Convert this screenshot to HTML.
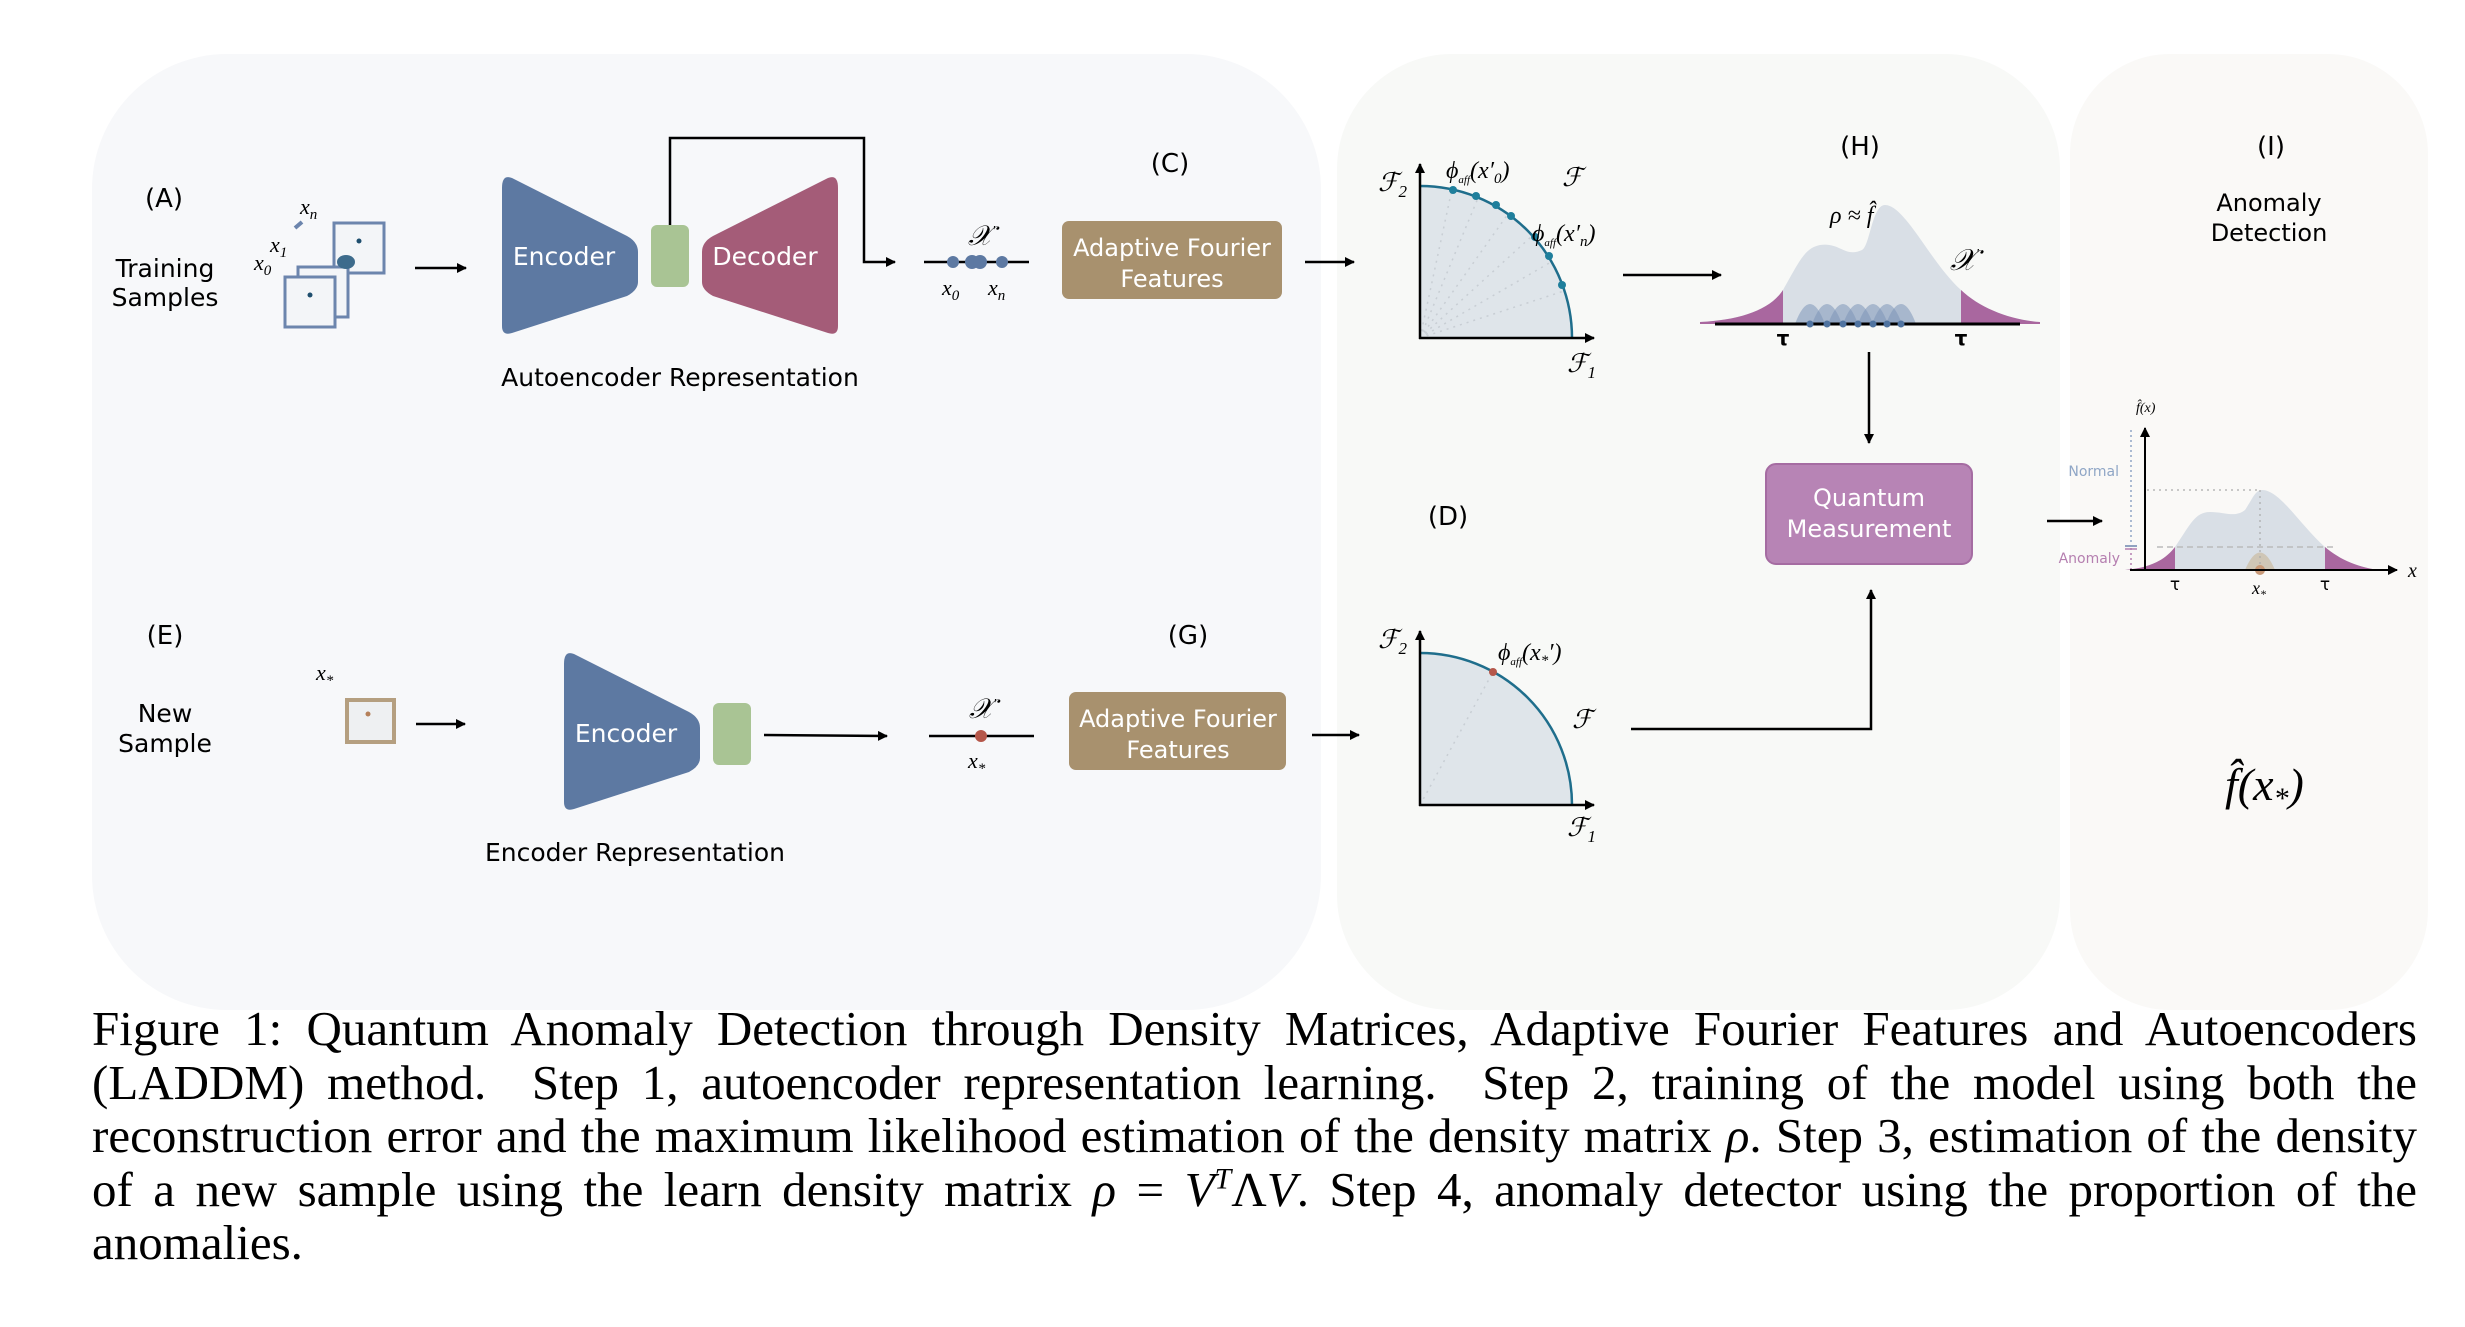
<!DOCTYPE html>
<html><head><meta charset="utf-8"><style>
body{margin:0;background:#fff;width:2465px;height:1327px;overflow:hidden;position:relative;font-family:"Liberation Sans","DejaVu Sans",sans-serif}
svg{position:absolute;left:0;top:0}
.cap{position:absolute;left:92px;top:1002px;width:2325px;font-family:"Liberation Serif",serif;font-size:49px;line-height:53.5px;color:#000}
.cap div{text-align:justify;text-align-last:justify;white-space:nowrap;overflow:visible}
.cap div.l{text-align-last:left}
</style></head><body>
<svg width="2465" height="1327" viewBox="0 0 2465 1327" font-family="DejaVu Sans, Liberation Sans, sans-serif">
<defs>
<marker id="ah" markerWidth="10" markerHeight="10" refX="9" refY="5" orient="auto" markerUnits="userSpaceOnUse"><path d="M0,0 L10,5 L0,10 z" fill="#000"/></marker>
</defs>
<rect x="92" y="54" width="1229" height="956" rx="135" fill="#f7f8fa"/>
<rect x="1337" y="54" width="723" height="956" rx="115" fill="#f8f9f7"/>
<rect x="2070" y="54" width="358" height="956" rx="100" fill="#faf9f7"/>

<text x="164" y="207" font-size="26" text-anchor="middle">(A)</text>
<text x="165" y="277" font-size="25" text-anchor="middle">Training</text>
<text x="165" y="306" font-size="25" text-anchor="middle">Samples</text>
<rect x="334" y="223" width="50" height="50" fill="#f3f5f8" stroke="#6c85ad" stroke-width="3"/>
<circle cx="359" cy="241" r="2.5" fill="#1e4e6e"/>
<rect x="298" y="267" width="50" height="50" fill="#f3f5f8" stroke="#6c85ad" stroke-width="3"/>
<rect x="285" y="277" width="50" height="50" fill="#f3f5f8" stroke="#6c85ad" stroke-width="3"/>
<circle cx="310" cy="295" r="2.5" fill="#1e4e6e"/>
<ellipse cx="346" cy="262" rx="9" ry="7" fill="#3d6b8c"/>
<line x1="295" y1="228" x2="302" y2="222" stroke="#6c85ad" stroke-width="4"/>
<text x="300" y="214" font-size="22" font-style="italic" font-family="Liberation Serif">x<tspan font-size="15" dy="5">n</tspan></text>
<text x="270" y="252" font-size="22" font-style="italic" font-family="Liberation Serif">x<tspan font-size="15" dy="5">1</tspan></text>
<text x="254" y="270" font-size="22" font-style="italic" font-family="Liberation Serif">x<tspan font-size="15" dy="5">0</tspan></text>
<line x1="415" y1="268" x2="466" y2="268" stroke="#000" stroke-width="2.5" marker-end="url(#ah)"/>
<path d="M512,178 L627,236 Q638,242 638,252 L638,282 Q638,290 627,296 L512,333 Q502,336 502,326 L502,188 Q502,174 512,178 z" fill="#5d79a2"/>
<text x="564" y="265" font-size="25" fill="#fff" text-anchor="middle">Encoder</text>
<rect x="651" y="225" width="38" height="62" rx="6" fill="#a9c494"/>
<path d="M828,178 L713,236 Q702,242 702,252 L702,282 Q702,290 713,296 L828,333 Q838,336 838,326 L838,188 Q838,174 828,178 z" fill="#a45c78"/>
<text x="765" y="265" font-size="25" fill="#fff" text-anchor="middle">Decoder</text>
<polyline points="670,225 670,138 864,138 864,262 895,262" fill="none" stroke="#000" stroke-width="2.5" marker-end="url(#ah)"/>
<text x="680" y="386" font-size="25" text-anchor="middle">Autoencoder Representation</text>
<line x1="924" y1="262" x2="1029" y2="262" stroke="#000" stroke-width="2.5"/>
<circle cx="953" cy="262" r="6" fill="#5d79a2"/><circle cx="972" cy="262" r="7" fill="#5d79a2"/><circle cx="980" cy="262" r="7" fill="#5d79a2"/><circle cx="1002" cy="262" r="6" fill="#5d79a2"/>
<text x="968" y="245" font-size="28" font-style="italic" font-family="Liberation Serif">𝒳<tspan font-size="14" dy="-10">'</tspan></text>
<text x="942" y="295" font-size="22" font-style="italic" font-family="Liberation Serif">x<tspan font-size="15" dy="5">0</tspan></text>
<text x="988" y="295" font-size="22" font-style="italic" font-family="Liberation Serif">x<tspan font-size="15" dy="5">n</tspan></text>
<text x="1170" y="172" font-size="26" text-anchor="middle">(C)</text>
<rect x="1062" y="221" width="220" height="78" rx="7" fill="#a8916e"/>
<text x="1172" y="256" font-size="24" fill="#fff" text-anchor="middle">Adaptive Fourier</text>
<text x="1172" y="287" font-size="24" fill="#fff" text-anchor="middle">Features</text>
<line x1="1305" y1="262" x2="1354" y2="262" stroke="#000" stroke-width="2.5" marker-end="url(#ah)"/>

<text x="165" y="644" font-size="26" text-anchor="middle">(E)</text>
<text x="165" y="722" font-size="25" text-anchor="middle">New</text>
<text x="165" y="752" font-size="25" text-anchor="middle">Sample</text>
<text x="316" y="680" font-size="22" font-style="italic" font-family="Liberation Serif">x<tspan font-size="15" dy="5">*</tspan></text>
<rect x="347" y="700" width="47" height="42" fill="#eef0f2" stroke="#b59f80" stroke-width="4"/>
<circle cx="368" cy="714" r="2.5" fill="#b5805a"/>
<line x1="416" y1="724" x2="465" y2="724" stroke="#000" stroke-width="2.5" marker-end="url(#ah)"/>
<path d="M574,654 L689,712 Q700,718 700,728 L700,758 Q700,766 689,772 L574,809 Q564,812 564,802 L564,664 Q564,650 574,654 z" fill="#5d79a2"/>
<text x="626" y="742" font-size="25" fill="#fff" text-anchor="middle">Encoder</text>
<rect x="713" y="703" width="38" height="62" rx="6" fill="#a9c494"/>
<line x1="764" y1="735" x2="887" y2="736" stroke="#000" stroke-width="2.5" marker-end="url(#ah)"/>
<text x="635" y="861" font-size="25" text-anchor="middle">Encoder Representation</text>
<line x1="929" y1="736" x2="1034" y2="736" stroke="#000" stroke-width="2.5"/>
<circle cx="981" cy="736" r="6" fill="#b5574a"/>
<text x="969" y="718" font-size="28" font-style="italic" font-family="Liberation Serif">𝒳<tspan font-size="14" dy="-10">'</tspan></text>
<text x="968" y="768" font-size="22" font-style="italic" font-family="Liberation Serif">x<tspan font-size="15" dy="5">*</tspan></text>
<text x="1188" y="644" font-size="26" text-anchor="middle">(G)</text>
<rect x="1069" y="692" width="217" height="78" rx="7" fill="#a8916e"/>
<text x="1178" y="727" font-size="24" fill="#fff" text-anchor="middle">Adaptive Fourier</text>
<text x="1178" y="758" font-size="24" fill="#fff" text-anchor="middle">Features</text>
<line x1="1312" y1="735" x2="1359" y2="735" stroke="#000" stroke-width="2.5" marker-end="url(#ah)"/>

<path d="M1420,338 L1420,186 A152,152 0 0 1 1572,338 z" fill="#dfe5ea"/>
<g stroke="#c8ced4" stroke-width="1.5" stroke-dasharray="2,5">
<line x1="1420" y1="338" x2="1452" y2="189"/><line x1="1420" y1="338" x2="1478" y2="198"/><line x1="1420" y1="338" x2="1508" y2="214"/><line x1="1420" y1="338" x2="1532" y2="236"/><line x1="1420" y1="338" x2="1551" y2="262"/><line x1="1420" y1="338" x2="1564" y2="291"/>
</g>
<path d="M1420,186 A152,152 0 0 1 1572,338" fill="none" stroke="#1f6e8c" stroke-width="2.5"/>
<g fill="#1f7f9c"><circle cx="1453" cy="190" r="4"/><circle cx="1476" cy="196" r="4"/><circle cx="1496" cy="205" r="4"/><circle cx="1511" cy="216" r="4"/><circle cx="1535" cy="237" r="4"/><circle cx="1549" cy="256" r="4"/><circle cx="1562" cy="285" r="4"/></g>
<line x1="1420" y1="339" x2="1420" y2="164" stroke="#000" stroke-width="2.5" marker-end="url(#ah)"/>
<line x1="1419" y1="338" x2="1594" y2="338" stroke="#000" stroke-width="2.5" marker-end="url(#ah)"/>
<text x="1378" y="191" font-size="26" font-style="italic" font-family="Liberation Serif">ℱ<tspan font-size="17" dy="6">2</tspan></text>
<text x="1567" y="372" font-size="26" font-style="italic" font-family="Liberation Serif">ℱ<tspan font-size="17" dy="6">1</tspan></text>
<text x="1562" y="186" font-size="26" font-style="italic" font-family="Liberation Serif">ℱ</text>
<text x="1446" y="178" font-size="24" font-style="italic" font-family="Liberation Serif">ϕ<tspan font-size="11" dy="5">aff</tspan><tspan dy="-5">(x′</tspan><tspan font-size="15" dy="5">0</tspan><tspan dy="-5">)</tspan></text>
<text x="1532" y="241" font-size="24" font-style="italic" font-family="Liberation Serif">ϕ<tspan font-size="11" dy="5">aff</tspan><tspan dy="-5">(x′</tspan><tspan font-size="15" dy="5">n</tspan><tspan dy="-5">)</tspan></text>
<line x1="1623" y1="275" x2="1721" y2="275" stroke="#000" stroke-width="2.5" marker-end="url(#ah)"/>

<text x="1860" y="155" font-size="26" text-anchor="middle">(H)</text>
<text x="1830" y="223" font-size="24" font-style="italic" font-family="Liberation Serif">ρ ≈ f̂</text>
<text x="1950" y="270" font-size="30" font-style="italic" font-family="Liberation Serif">𝒳<tspan font-size="14" dy="-12">'</tspan></text>
<path d="M1700,322 C1740,320 1770,310 1783,290 C1800,260 1805,248 1820,245 C1840,242 1845,258 1862,250 C1870,246 1872,205 1885,205 C1905,205 1930,262 1961,290 C1980,308 2010,320 2040,322 L2040,324 L1700,324 z" fill="#d9dfe6"/>
<path d="M1700,322 C1740,320 1770,310 1783,290 L1783,324 L1700,324 z" fill="#a9679f"/>
<path d="M1961,290 C1980,308 2010,320 2040,322 L2040,324 L1961,324 z" fill="#a9679f"/>
<g fill="#7d95b8" fill-opacity="0.55">
<path d="M1795,324 Q1810,284 1825,324z"/><path d="M1812,324 Q1827,284 1842,324z"/><path d="M1828,324 Q1843,284 1858,324z"/><path d="M1843,324 Q1858,284 1873,324z"/><path d="M1858,324 Q1873,284 1888,324z"/><path d="M1872,324 Q1887,284 1902,324z"/><path d="M1886,324 Q1901,284 1916,324z"/>
</g>
<line x1="1715" y1="324" x2="2020" y2="324" stroke="#000" stroke-width="3"/>
<g fill="#4f73a0"><circle cx="1810" cy="324" r="3.5"/><circle cx="1827" cy="324" r="3.5"/><circle cx="1843" cy="324" r="3.5"/><circle cx="1858" cy="324" r="3.5"/><circle cx="1873" cy="324" r="3.5"/><circle cx="1887" cy="324" r="3.5"/><circle cx="1901" cy="324" r="3.5"/></g>
<text x="1783" y="345" font-size="20" font-weight="bold" text-anchor="middle">τ</text>
<text x="1961" y="345" font-size="20" font-weight="bold" text-anchor="middle">τ</text>
<line x1="1869" y1="352" x2="1869" y2="443" stroke="#000" stroke-width="2.5" marker-end="url(#ah)"/>
<rect x="1766" y="464" width="206" height="100" rx="10" fill="#b784b5" stroke="#a56ca2" stroke-width="2"/>
<text x="1869" y="506" font-size="24" fill="#fff" text-anchor="middle">Quantum</text>
<text x="1869" y="537" font-size="24" fill="#fff" text-anchor="middle">Measurement</text>

<text x="1448" y="525" font-size="26" text-anchor="middle">(D)</text>
<path d="M1420,805 L1420,653 A152,152 0 0 1 1572,805 z" fill="#dfe5ea"/>
<line x1="1420" y1="805" x2="1493" y2="672" stroke="#c8ced4" stroke-width="1.5" stroke-dasharray="2,5"/>
<path d="M1420,653 A152,152 0 0 1 1572,805" fill="none" stroke="#1f6e8c" stroke-width="2.5"/>
<circle cx="1493" cy="672" r="4" fill="#b5574a"/>
<line x1="1420" y1="806" x2="1420" y2="631" stroke="#000" stroke-width="2.5" marker-end="url(#ah)"/>
<line x1="1419" y1="805" x2="1594" y2="805" stroke="#000" stroke-width="2.5" marker-end="url(#ah)"/>
<text x="1378" y="648" font-size="26" font-style="italic" font-family="Liberation Serif">ℱ<tspan font-size="17" dy="6">2</tspan></text>
<text x="1567" y="836" font-size="26" font-style="italic" font-family="Liberation Serif">ℱ<tspan font-size="17" dy="6">1</tspan></text>
<text x="1572" y="728" font-size="26" font-style="italic" font-family="Liberation Serif">ℱ</text>
<text x="1498" y="660" font-size="24" font-style="italic" font-family="Liberation Serif">ϕ<tspan font-size="11" dy="5">aff</tspan><tspan dy="-5">(x</tspan><tspan font-size="15" dy="5">*</tspan><tspan dy="-5">′)</tspan></text>
<polyline points="1631,729 1871,729 1871,590" fill="none" stroke="#000" stroke-width="2.5" marker-end="url(#ah)"/>
<line x1="2047" y1="521" x2="2102" y2="521" stroke="#000" stroke-width="2.5" marker-end="url(#ah)"/>

<text x="2271" y="155" font-size="26" text-anchor="middle">(I)</text>
<text x="2269" y="211" font-size="24" text-anchor="middle">Anomaly</text>
<text x="2269" y="241" font-size="24" text-anchor="middle">Detection</text>
<path d="M2125,570 C2150,568 2165,560 2175,547 C2190,525 2195,512 2210,512 C2225,512 2235,518 2245,510 C2252,500 2255,490 2262,490 C2280,490 2300,525 2325,547 C2340,560 2360,568 2380,570 z" fill="#d9dfe6"/>
<path d="M2125,570 C2150,568 2165,560 2175,547 L2175,570 z" fill="#a9679f"/>
<path d="M2325,547 C2340,560 2360,568 2380,570 L2325,570 z" fill="#a9679f"/>
<path d="M2245,570 Q2260,535 2275,570z" fill="#cfc6b6"/>
<circle cx="2260" cy="570" r="5" fill="#c99a78"/>
<line x1="2157" y1="547" x2="2335" y2="547" stroke="#bbb" stroke-width="1.5" stroke-dasharray="6,4"/>
<line x1="2147" y1="490" x2="2260" y2="490" stroke="#aaa" stroke-width="1.2" stroke-dasharray="2,4"/>
<line x1="2260" y1="490" x2="2260" y2="570" stroke="#aaa" stroke-width="1.2" stroke-dasharray="2,4"/>
<line x1="2131" y1="430" x2="2131" y2="545" stroke="#8fa6c6" stroke-width="1.5" stroke-dasharray="2,3"/>
<line x1="2131" y1="548" x2="2131" y2="570" stroke="#b57fb0" stroke-width="1.5" stroke-dasharray="2,3"/>
<line x1="2125" y1="546" x2="2137" y2="546" stroke="#6c85ad" stroke-width="1.5"/><line x1="2125" y1="549" x2="2137" y2="549" stroke="#b57fb0" stroke-width="1.5"/>
<line x1="2145" y1="571" x2="2145" y2="428" stroke="#000" stroke-width="2" marker-end="url(#ah)"/>
<line x1="2130" y1="570" x2="2397" y2="570" stroke="#000" stroke-width="2" marker-end="url(#ah)"/>
<text x="2136" y="412" font-size="14" font-style="italic" font-family="Liberation Serif">f̂(x)</text>
<text x="2119" y="476" font-size="14" fill="#8fa6c6" text-anchor="end">Normal</text>
<text x="2120" y="563" font-size="14" fill="#b57fb0" text-anchor="end">Anomaly</text>
<text x="2175" y="590" font-size="17" text-anchor="middle">τ</text>
<text x="2325" y="590" font-size="17" text-anchor="middle">τ</text>
<text x="2252" y="594" font-size="18" font-style="italic" font-family="Liberation Serif">x<tspan font-size="12" dy="4">*</tspan></text>
<text x="2408" y="577" font-size="20" font-style="italic" font-family="Liberation Serif">x</text>
<text x="2225" y="800" font-size="46" font-style="italic" font-family="Liberation Serif">f̂(x<tspan font-size="30" dy="8">*</tspan><tspan dy="-8">)</tspan></text>
</svg>
<div class="cap">
<div>Figure 1: Quantum Anomaly Detection through Density Matrices, Adaptive Fourier Features and Autoencoders</div>
<div>(LADDM) method. &nbsp;Step 1, autoencoder representation learning. &nbsp;Step 2, training of the model using both the</div>
<div>reconstruction error and the maximum likelihood estimation of the density matrix <i>ρ</i>. Step 3, estimation of the density</div>
<div>of a new sample using the learn density matrix <i>ρ</i> = <i>V</i><sup style="font-size:30px;line-height:0"><i>T</i></sup>Λ<i>V</i>. Step 4, anomaly detector using the proportion of the</div>
<div class="l">anomalies.</div>
</div>
</body></html>
